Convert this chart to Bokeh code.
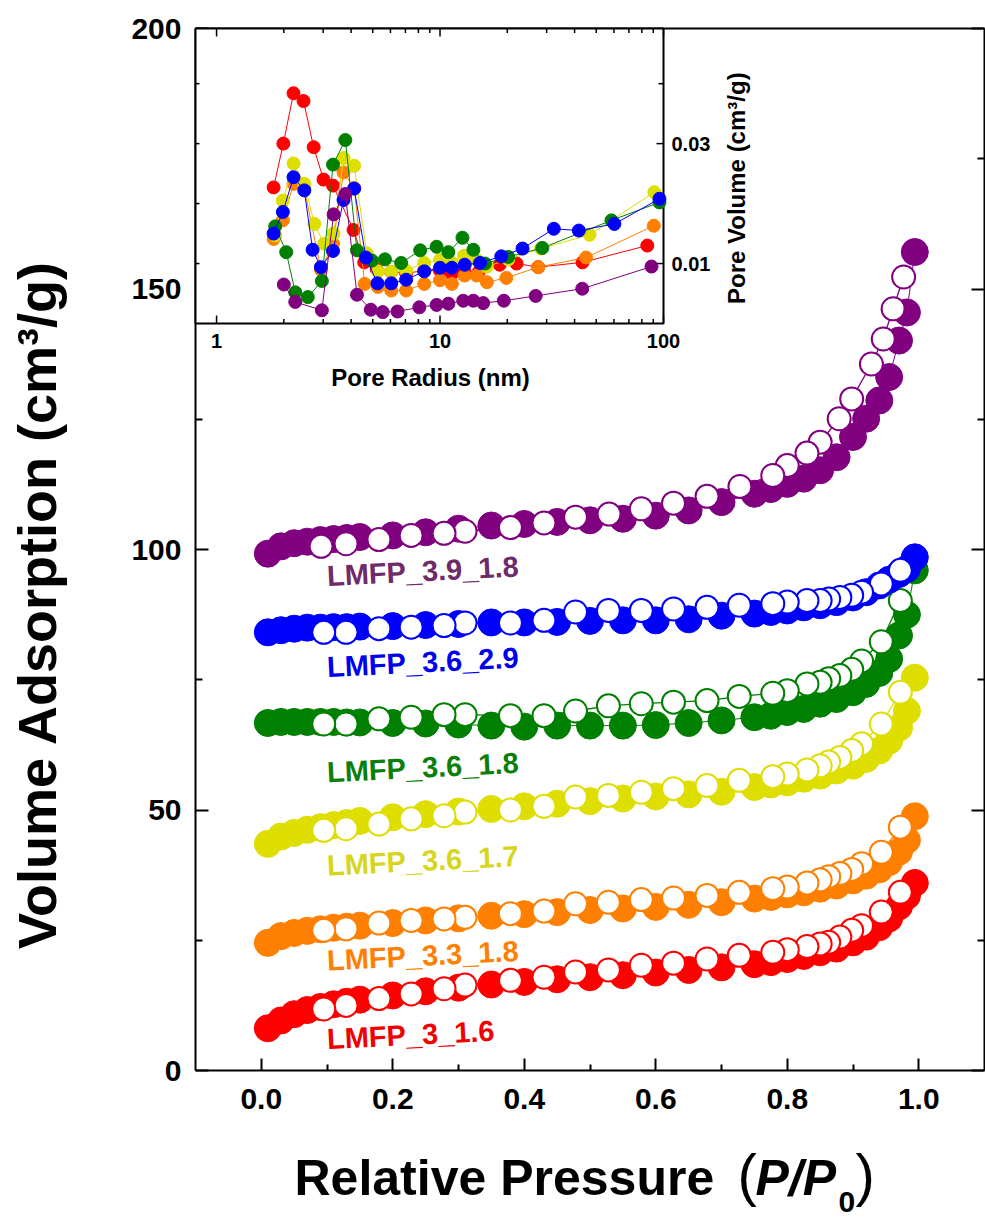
import math
from bokeh.plotting import figure
from bokeh.models import Range1d, LinearAxis, FixedTicker, LogScale, Label
from bokeh.core.properties import value
from bokeh.embed import file_html
from bokeh.resources import INLINE

FONT = "Liberation Sans"

# ---------------- main isotherm data ----------------
ads_p = [0.01, 0.03, 0.05, 0.07, 0.09, 0.11, 0.13, 0.15, 0.20, 0.25, 0.30, 0.35, 0.40, 0.45,
         0.50, 0.55, 0.60, 0.65, 0.70, 0.75, 0.775, 0.80, 0.825, 0.85, 0.875, 0.90, 0.92,
         0.94, 0.955, 0.97, 0.982, 0.994]
des_p = [0.972, 0.943, 0.913, 0.898, 0.88, 0.863, 0.85, 0.83, 0.80, 0.778, 0.727, 0.678,
         0.627, 0.578, 0.528, 0.478, 0.43, 0.379, 0.31, 0.278, 0.228, 0.179, 0.129, 0.095]
des_p_39 = [0.977, 0.961, 0.946, 0.928, 0.898, 0.879, 0.85, 0.83, 0.80, 0.778, 0.728, 0.678,
            0.627, 0.578, 0.529, 0.478, 0.43, 0.379, 0.31, 0.278, 0.228, 0.179, 0.129, 0.091]

ads_3_16 = [8.1, 9.6, 10.8, 11.6, 12.2, 12.7, 13.2, 13.6, 14.4, 15.2, 15.9, 16.5, 17.0, 17.5,
            17.9, 18.3, 18.8, 19.3, 19.8, 20.4, 20.8, 21.4, 22.0, 22.7, 23.4, 24.6, 25.7,
            27.5, 29.2, 31.5, 33.5, 36.0]
des_3_16 = [34.2, 30.4, 27.8, 26.9, 25.6, 24.6, 24.3, 23.8, 23.2, 22.7, 22.1, 21.4, 20.6,
            20.2, 19.3, 18.9, 17.9, 17.3, 16.4, 15.7, 14.7, 13.8, 12.5, 11.8]

ads_33_18 = [24.5, 25.8, 26.4, 26.8, 27.1, 27.4, 27.6, 27.8, 28.3, 28.8, 29.2, 29.7, 30.0, 30.4,
             30.8, 31.1, 31.4, 31.8, 32.3, 33.0, 33.3, 33.8, 34.2, 34.9, 35.5, 36.5, 37.4,
             38.6, 40.0, 42.0, 44.2, 48.8]
des_33_18 = [46.7, 41.9, 39.7, 38.6, 37.8, 37.2, 36.6, 36.0, 35.2, 34.9, 34.2, 33.6, 33.1,
             32.8, 32.3, 32.0, 30.6, 30.1, 29.4, 29.1, 28.8, 28.3, 27.2, 26.9]

ads_36_17 = [43.5, 44.9, 45.6, 46.2, 46.7, 47.1, 47.5, 47.9, 48.6, 49.2, 49.7, 50.2, 50.7, 51.2,
             51.7, 52.2, 52.6, 53.0, 53.5, 54.4, 54.9, 55.3, 56.0, 56.6, 57.6, 58.5, 59.8,
             61.4, 63.3, 65.8, 69.0, 75.4]
des_36_17 = [72.6, 66.5, 62.7, 61.4, 60.1, 59.2, 58.5, 57.7, 56.9, 56.4, 55.7, 54.7, 54.1,
             53.4, 52.8, 52.5, 50.7, 50.0, 49.6, 48.9, 48.3, 47.3, 46.4, 46.1]

ads_36_18 = [66.7, 66.9, 66.9, 66.9, 66.9, 66.9, 66.8, 66.8, 66.7, 66.6, 66.4, 66.2, 66.0, 66.2,
             66.2, 66.2, 66.3, 66.7, 67.2, 67.8, 68.1, 68.8, 69.4, 70.4, 71.3, 72.6, 74.2,
             76.3, 79.0, 83.5, 87.5, 96.0]
des_36_18 = [90.2, 82.3, 78.6, 77.0, 75.8, 75.2, 74.5, 74.2, 72.9, 72.4, 71.8, 71.0, 70.7,
             70.4, 70.0, 69.0, 68.1, 68.1, 68.3, 68.3, 67.8, 67.5, 66.5, 66.5]

ads_36_29 = [84.1, 84.5, 84.8, 85.0, 85.0, 85.1, 85.1, 85.2, 85.3, 85.5, 85.7, 86.0, 86.0, 86.1,
             86.3, 86.4, 86.4, 86.6, 87.3, 87.7, 88.0, 88.3, 88.9, 89.3, 89.9, 90.8, 91.8,
             93.1, 94.2, 95.3, 96.3, 98.5]
des_36_29 = [96.0, 93.4, 91.8, 91.2, 90.8, 90.5, 90.2, 90.2, 89.9, 89.6, 89.3, 88.9, 88.6,
             88.3, 88.3, 88.0, 86.4, 85.9, 85.9, 85.4, 85.1, 84.8, 84.1, 84.1]

ads_39_18 = [99.2, 100.6, 101.2, 101.5, 101.8, 102.0, 102.2, 102.4, 102.7, 103.3, 104.0, 104.6,
             104.9, 105.3, 105.6, 105.9, 106.5, 107.5, 109.1, 110.7, 111.6, 112.6, 113.6,
             115.2, 117.7, 121.6, 125.1, 128.6, 133.1, 140.1, 145.5, 157.1]
des_39_18 = [152.3, 146.2, 140.4, 135.6, 128.9, 125.1, 120.6, 118.5, 116.1, 114.2, 112.1,
             110.2, 108.9, 107.8, 106.8, 106.2, 105.1, 104.2, 103.5, 103.1, 102.7, 101.9,
             101.1, 100.6]

series_names = ["LMFP_3_1.6", "LMFP_3.3_1.8", "LMFP_3.6_1.7", "LMFP_3.6_1.8",
                "LMFP_3.6_2.9", "LMFP_3.9_1.8"]
marker_colors = ["#ff0000", "#ff8000", "#dede00", "#008000", "#0000ff", "#800080"]
label_colors = ["#f20000", "#ff8000", "#d6d620", "#0a800a", "#0000f0", "#6e2a6a"]
label_x = [0.10, 0.10, 0.10, 0.10, 0.10, 0.10]
label_y = [3.8, 18.9, 37.1, 55.0, 75.2, 92.7]   # baseline of each series label

x_ticks = [0.0, 0.2, 0.4, 0.6, 0.8, 1.0]
x_tick_labels = ["0.0", "0.2", "0.4", "0.6", "0.8", "1.0"]
x_minor = [0.1, 0.3, 0.5, 0.7, 0.9]
y_ticks = [0, 50, 100, 150, 200]
y_minor = [25, 75, 125, 175]

# ---------------- inset (pore size distribution) ----------------
r_3_16 = [1.80, 1.99, 2.21, 2.45, 2.72, 3.01, 3.32, 4.10, 4.58, 5.21, 6.05, 7.05, 8.5, 10.0,
          11.3, 12.9, 14.9, 18.5, 22.0, 27.5, 43.4, 84.6]
v_3_16 = [0.0227, 0.0300, 0.0384, 0.0371, 0.0294, 0.0240, 0.0230, 0.0156, 0.0102, 0.0090,
          0.0086, 0.0084, 0.0088, 0.0088, 0.0083, 0.0086, 0.0086, 0.0098, 0.0100, 0.0094,
          0.0102, 0.0130]
r_33_18 = [1.80, 1.98, 2.21, 2.46, 2.93, 3.32, 3.70, 4.13, 4.60, 5.27, 6.05, 7.05, 8.5, 10.0,
           11.3, 12.9, 14.6, 16.2, 19.8, 27.5, 45.0, 90.5]
v_33_18 = [0.0141, 0.0172, 0.0233, 0.0228, 0.0090, 0.0133, 0.0252, 0.0226, 0.0066, 0.0061,
           0.0055, 0.0055, 0.0066, 0.0072, 0.0066, 0.0080, 0.0080, 0.0069, 0.0076, 0.0094,
           0.0110, 0.0163]
r_36_17 = [1.83, 1.98, 2.21, 2.47, 2.74, 3.03, 3.34, 3.70, 4.13, 4.70, 5.27, 6.05, 7.05, 8.5,
           10.0, 11.3, 12.8, 14.6, 16.2, 20.2, 28.3, 46.7, 91.0]
v_36_17 = [0.0147, 0.0205, 0.0267, 0.0233, 0.0166, 0.0133, 0.0150, 0.0276, 0.0263, 0.0117,
           0.0087, 0.0086, 0.0088, 0.0101, 0.0106, 0.0101, 0.0113, 0.0106, 0.0095, 0.0107,
           0.0125, 0.0148, 0.0219]
r_36_18 = [1.83, 2.05, 2.25, 2.56, 2.96, 3.32, 3.77, 4.25, 4.96, 5.67, 6.70, 8.15, 9.65, 10.9,
           12.6, 14.1, 15.9, 20.2, 28.7, 58.5, 95.9]
v_36_18 = [0.0162, 0.0119, 0.0052, 0.0044, 0.0071, 0.0265, 0.0306, 0.0122, 0.0105, 0.0107,
           0.0101, 0.0122, 0.0128, 0.0119, 0.0143, 0.0123, 0.0100, 0.0111, 0.0126, 0.0172,
           0.0202]
r_36_29 = [1.80, 1.98, 2.21, 2.47, 2.69, 2.93, 3.32, 3.70, 4.13, 4.66, 5.25, 6.05, 7.05, 8.5,
           10.0, 11.3, 12.9, 15.1, 18.8, 23.4, 32.3, 41.8, 60.3, 95.9]
v_36_29 = [0.0150, 0.0186, 0.0244, 0.0222, 0.0123, 0.0094, 0.0121, 0.0206, 0.0225, 0.0110,
           0.0067, 0.0067, 0.0073, 0.0087, 0.0093, 0.0093, 0.0098, 0.0101, 0.0112, 0.0125,
           0.0158, 0.0155, 0.0166, 0.0208]
r_39_18 = [2.0, 2.25, 2.96, 3.34, 3.77, 4.25, 4.90, 5.54, 6.45, 8.08, 9.65, 10.9, 12.7, 14.1,
           15.6, 19.3, 26.8, 43.3, 88.4]
v_39_18 = [0.0065, 0.0036, 0.0022, 0.0182, 0.0216, 0.0048, 0.0023, 0.0019, 0.0020, 0.0027,
           0.0031, 0.0033, 0.0038, 0.0038, 0.0034, 0.0038, 0.0046, 0.0058, 0.0095]

inset_x_major = [1, 10, 100]
inset_x_labels = ["1", "10", "100"]
inset_x_minor = [2, 3, 4, 5, 6, 7, 8, 9, 20, 30, 40, 50, 60, 70, 80, 90]
inset_y_major = [0.01, 0.03]
inset_y_labels = ["0.01", "0.03"]
inset_y_minor = [0.02, 0.04]

# ---------------- layout geometry (pixels) ----------------
W, H = 985, 1217
FL, FR, FT, FB = 195, 984, 28, 1070      # main plot box inside the canvas
X0, X1 = -0.1, 1.1
Y0, Y1 = 0.0, 200.0
INSET_R, INSET_B = 663, 323
IX0, IX1 = 0.805, 100.0
IY0, IY1 = 0.0, 0.0492
BL = 0.40   # anchor-to-baseline shift of Bokeh text, in em

SX = (FR - FL) / (X1 - X0)
SY = (FB - FT) / (Y1 - Y0)
XS, XE = X0 - FL / SX, X1 + (W - FR) / SX
YS, YE = Y0 - (H - FB) / SY, Y1 + FT / SY


def dx(px):
    return XS + px / SX


def dy(py):
    return YE - py / SY


p = figure(width=W, height=H, x_range=Range1d(XS, XE), y_range=Range1d(YS, YE),
           output_backend="svg", toolbar_location=None,
           min_border=0, x_axis_location=None, y_axis_location=None)
p.outline_line_color = None
p.background_fill_color = "white"
p.border_fill_color = "white"
p.grid.visible = False


def make_axis(ticks, minor, fixed, bounds, tin, tmin, show_labels):
    ax = LinearAxis(ticker=FixedTicker(ticks=ticks, minor_ticks=minor),
                    fixed_location=fixed, bounds=bounds)
    ax.axis_line_width = 2
    ax.axis_line_color = "black"
    ax.major_tick_line_width = 2
    ax.minor_tick_line_width = 2
    ax.major_tick_out = 0
    ax.minor_tick_out = 0
    ax.major_tick_in = tin
    ax.minor_tick_in = tmin
    if show_labels:
        ax.major_label_text_font = FONT
        ax.major_label_text_font_style = "bold"
        ax.major_label_text_font_size = "30px"
        ax.major_label_text_color = "black"
    else:
        ax.major_label_text_color = None
    return ax


xa = make_axis(x_ticks, x_minor, Y0, (X0, X1), 12, 6, True)
xa.major_label_overrides = {t: s for t, s in zip(x_ticks, x_tick_labels)}
xa.major_label_standoff = 18
p.add_layout(xa, "below")
ya = make_axis(y_ticks, y_minor, X0, (Y0, Y1), 13, 7, True)
ya.major_label_standoff = 14
p.add_layout(ya, "left")
ya2 = make_axis(y_ticks, y_minor, X1, (Y0, Y1), 13, 7, False)
p.add_layout(ya2, "right")
xt = make_axis([], [], Y1, (X0, X1), 0, 0, False)
p.add_layout(xt, "above")

# ---------------- isotherms ----------------
ads_all = [ads_3_16, ads_33_18, ads_36_17, ads_36_18, ads_36_29, ads_39_18]
des_all = [des_3_16, des_33_18, des_36_17, des_36_18, des_36_29, des_39_18]
des_x_all = [des_p, des_p, des_p, des_p, des_p, des_p_39]
for ads, des, dxs, col in zip(ads_all, des_all, des_x_all, marker_colors):
    p.line(ads_p, ads, line_color=col, line_width=1)
    p.scatter(ads_p, ads, size=27, fill_color=col, line_color=col, line_width=1)
    p.line(dxs, des, line_color=col, line_width=1.3)
    p.scatter(dxs, des, size=23, fill_color="white", line_color=col, line_width=2)

LAB_FS = 29
p.text(x=label_x, y=[v + BL * LAB_FS / SY for v in label_y], text=series_names,
       text_color=label_colors, angle=0.05,
       text_font=value(FONT), text_font_style="bold", text_font_size=f"{LAB_FS}px",
       text_align="left", text_baseline="alphabetic")


def label(px, py, text, fs, style="bold", angle=0.0, align="left", level="annotation"):
    """Place a text so that its baseline passes through canvas pixel (px, py)."""
    if angle:
        ax_, ay_ = dx(px - BL * fs), dy(py)
    else:
        ax_, ay_ = dx(px), dy(py - BL * fs)
    p.add_layout(Label(x=ax_, y=ay_, text=text, angle=angle, text_align=align,
                       text_baseline="alphabetic", text_font=FONT, text_font_style=style,
                       text_font_size=f"{fs}px", text_color="black", level=level))


# ---------------- axis titles ----------------
label(58, 604, "Volume Adsorption (cm\u00b3/g)", 54, angle=math.pi / 2, align="center")
label(294, 1197, "Relative Pressure", 50)
label(737, 1197, "(", 58, style="normal")
label(755, 1197, "P/P", 50, style="bold italic")
label(838, 1213, "0", 30)
label(855, 1197, ")", 58, style="normal")

# ---------------- inset via extra ranges ----------------
lx0, lx1 = math.log10(IX0), math.log10(IX1)
ppd = (INSET_R - FL) / (lx1 - lx0)      # pixels per decade
vpp = (IY1 - IY0) / (INSET_B - FT)      # pore-volume units per pixel
p.extra_x_ranges = {"r": Range1d(10 ** (lx0 - FL / ppd), 10 ** (lx1 + (W - INSET_R) / ppd))}
p.extra_x_scales = {"r": LogScale()}
p.extra_y_ranges = {"v": Range1d(IY0 - (H - INSET_B) * vpp, IY1 + FT * vpp)}
IR = dict(x_range_name="r", y_range_name="v")

p.quad(left=[IX0], right=[IX1], bottom=[IY0], top=[IY1], fill_color="white",
       line_color="black", line_width=2, level="annotation", **IR)


def hlen(x, px):
    return x * 10 ** (px / ppd)


bx0, bx1, by0, by1 = [], [], [], []
for t, L in [(t, 8) for t in inset_x_major] + [(t, 4.5) for t in inset_x_minor]:
    bx0 += [t, t]; bx1 += [t, t]
    by0 += [IY0, IY1]; by1 += [IY0 + L * vpp, IY1 - L * vpp]
for t, L in [(t, 7) for t in inset_y_major] + [(t, 5) for t in inset_y_minor]:
    bx0 += [IX1, IX0]; bx1 += [hlen(IX1, -L), hlen(IX0, 4)]
    by0 += [t, t]; by1 += [t, t]
p.segment(x0=bx0, y0=by0, x1=bx1, y1=by1, line_color="black", line_width=1.5,
          level="overlay", **IR)

inset_r = [r_3_16, r_33_18, r_36_17, r_36_18, r_36_29, r_39_18]
inset_v = [v_3_16, v_33_18, v_36_17, v_36_18, v_36_29, v_39_18]
for rr, vv, col in zip(inset_r, inset_v, marker_colors):
    p.line(rr, vv, line_color=col, line_width=1, level="overlay", **IR)
    p.scatter(rr, vv, size=13, fill_color=col, line_color=col, level="overlay", **IR)

p.text(x=inset_x_major, y=[IY0 - 17 * vpp] * 3, text=inset_x_labels,
       text_font=value(FONT), text_font_style="bold", text_font_size="20px",
       text_align="center", text_baseline="middle", text_color="black",
       level="overlay", **IR)
p.text(x=[hlen(IX1, 8)] * 2, y=inset_y_major, text=inset_y_labels,
       text_font=value(FONT), text_font_style="bold", text_font_size="20px",
       text_align="left", text_baseline="middle", text_color="black",
       level="overlay", **IR)
label(430, 387, "Pore Radius (nm)", 24, align="center", level="overlay")
label(746, 181, "Pore Volume   (cm\u00b3/g)", 24, angle=math.pi / 2, align="center",
      level="overlay")

open("out.html", "w").write(file_html(p, INLINE))
